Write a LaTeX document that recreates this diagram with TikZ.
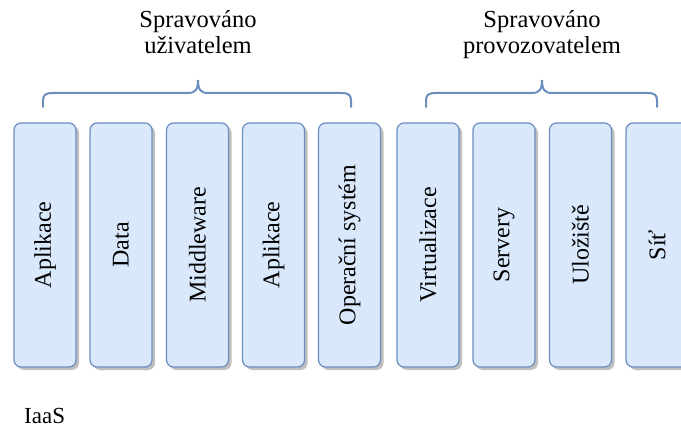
\documentclass[tikz,border=0pt]{standalone}
\usepackage{fontspec}
\setmainfont{Liberation Serif}
\usetikzlibrary{shadows}
\definecolor{layerfill}{HTML}{DAE8FC}
\definecolor{layerline}{HTML}{6C8EBF}
\begin{document}
\begin{tikzpicture}[x=1pt,y=-1pt,
  layer/.style={draw=layerline, line width=1.2pt, fill=layerfill, rounded corners=7pt,
    minimum width=62pt, minimum height=244pt, inner sep=0pt,
    drop shadow={shadow xshift=3pt, shadow yshift=-3pt, fill=black!25, opacity=1}},
  layertext/.style={rotate=90, font=\fontsize{24}{28}\selectfont},
  caption/.style={align=center, anchor=base, inner sep=0pt, font=\fontsize{24.5}{26.5}\selectfont},
  bracket/.style={draw=layerline, line width=2pt, line cap=round, rounded corners=0pt}]
\useasboundingbox (0,0) rectangle (681,428);
\clip (0,0) rectangle (681,428);

% captions (anchored at the baseline of their last line)
\node[caption] (user) at (198,54) {Spravováno\\uživatelem};
\node[caption] (provider) at (542,54) {Spravováno\\provozovatelem};

% curly brackets
\draw[bracket] (43,107) -- (43,101) .. controls (43,95) and (45,93) .. (53,93) -- (188,93)
  .. controls (195,93) and (198,90) .. (198,80)
  .. controls (198,90) and (201,93) .. (208,93) -- (341,93)
  .. controls (349,93) and (351,95) .. (351,101) -- (351,107);
\draw[bracket] (426,107) -- (426,101) .. controls (426,95) and (428,93) .. (436,93) -- (532,93)
  .. controls (539,93) and (542,90) .. (542,80)
  .. controls (542,90) and (545,93) .. (552,93) -- (647,93)
  .. controls (655,93) and (657,95) .. (657,101) -- (657,107);

% layers
\node[layer] (l1) at (45,245) {};
\node[layer] (l2) at (121,245) {};
\node[layer] (l3) at (197.5,245) {};
\node[layer] (l4) at (273.5,245) {};
\node[layer] (l5) at (349.5,245) {};
\node[layer] (l6) at (428,245) {};
\node[layer] (l7) at (504,245) {};
\node[layer] (l8) at (580.5,245) {};
\node[layer] (l9) at (657,245) {};

\node[layertext] at (l1) {Aplikace};
\node[layertext] at (l2) {Data};
\node[layertext] at (l3) {Middleware};
\node[layertext] at (l4) {Aplikace};
\node[layertext] at (l5) {Operační systém};
\node[layertext] at (l6) {Virtualizace};
\node[layertext] at (l7) {Servery};
\node[layertext] at (l8) {Uložiště};
\node[layertext] at (l9) {Síť};

% model name
\node[font=\fontsize{23}{27}\selectfont, anchor=west, inner sep=0pt] (model) at (24,416) {IaaS};
\end{tikzpicture}
\end{document}
